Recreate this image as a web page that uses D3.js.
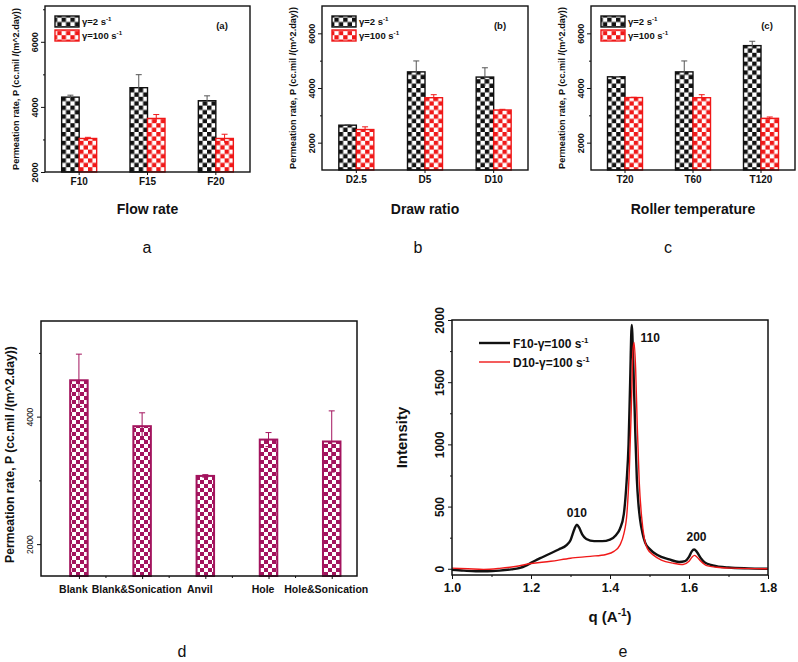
<!DOCTYPE html>
<html>
<head>
<meta charset="utf-8">
<script src="https://cdn.jsdelivr.net/npm/d3@7"></script>
<style>
  html, body { margin: 0; padding: 0; background: #fff; }
  svg { display: block; }
</style>
</head>
<body>
<script>
// ---- data ----
const seriesNames = ['γ=2', 'γ=100'];

const flowCats = ['F10', 'F15', 'F20'];
const flowLow = [4300, 4590, 4190];
const flowLowErr = [60, 400, 150];
const flowHigh = [3030, 3645, 3030];
const flowHighErr = [35, 120, 130];

const drawCats = ['D2.5', 'D5', 'D10'];
const drawLow = [2640, 4590, 4400];
const drawLowErr = [15, 400, 340];
const drawHigh = [2480, 3645, 3195];
const drawHighErr = [100, 110, 25];

const tempCats = ['T20', 'T60', 'T120'];
const tempLow = [4410, 4590, 5550];
const tempLowErr = [10, 400, 160];
const tempHigh = [3650, 3645, 2890];
const tempHighErr = [10, 110, 50];

const modCats = ['Blank', 'Blank&Sonication', 'Anvil', 'Hole', 'Hole&Sonication'];
const modVals = [4570, 3850, 3070, 3640, 3610];
const modErr = [410, 210, 20, 110, 480];

// WAXS curves: [q, intensity]
const f10Curve = [
  [1.00, -8], [1.03, -15], [1.06, -20], [1.09, -20], [1.12, -15], [1.15, -5], [1.17, 5],
  [1.19, 30], [1.21, 65], [1.23, 95], [1.25, 125], [1.27, 155], [1.29, 190], [1.30, 230],
  [1.31, 320], [1.316, 355], [1.322, 330], [1.33, 275], [1.34, 240], [1.36, 222], [1.38, 222],
  [1.40, 235], [1.415, 270], [1.425, 320], [1.435, 440], [1.442, 700], [1.447, 1000],
  [1.451, 1500], [1.455, 1960], [1.459, 1650], [1.464, 1100], [1.468, 720], [1.472, 520],
  [1.476, 400], [1.482, 290], [1.489, 210], [1.50, 160], [1.52, 110], [1.55, 75], [1.575, 55],
  [1.59, 62], [1.60, 95], [1.607, 140], [1.613, 155], [1.62, 135], [1.63, 85], [1.64, 50],
  [1.66, 28], [1.70, 10], [1.75, 3], [1.80, 0]
];
const d10Curve = [
  [1.00, 5], [1.04, 0], [1.08, -5], [1.12, 3], [1.16, 18], [1.20, 42], [1.25, 60], [1.30, 85],
  [1.35, 100], [1.39, 115], [1.41, 140], [1.425, 190], [1.435, 280], [1.443, 450], [1.449, 800],
  [1.454, 1300], [1.458, 1750], [1.461, 1820], [1.465, 1600], [1.469, 1150], [1.474, 700],
  [1.48, 420], [1.487, 240], [1.495, 160], [1.51, 110], [1.53, 70], [1.56, 45], [1.585, 35],
  [1.60, 60], [1.608, 95], [1.614, 108], [1.62, 95], [1.63, 60], [1.645, 25], [1.67, 12],
  [1.71, 5], [1.80, 0]
];
const peakLabels = [
  { text: '010', q: 1.316, v: 420 },
  { text: '110', q: 1.502, v: 1825 },
  { text: '200', q: 1.619, v: 225 },
];

// ---- setup ----
const FONT = '"Liberation Sans", Arial, Helvetica, sans-serif';
const RED = '#f01818';
const MAG = '#a3145e';

const svg = d3.select('body').append('svg')
  .attr('width', 798).attr('height', 662)
  .style('font-family', FONT);

const defs = svg.append('defs');
function checker(id, color, size) {
  const p = defs.append('pattern').attr('id', id)
    .attr('patternUnits', 'userSpaceOnUse')
    .attr('width', size * 2).attr('height', size * 2);
  p.append('rect').attr('width', size * 2).attr('height', size * 2).attr('fill', '#fff');
  p.append('rect').attr('width', size).attr('height', size).attr('fill', color);
  p.append('rect').attr('x', size).attr('y', size).attr('width', size).attr('height', size).attr('fill', color);
}
checker('chkBlack', '#111', 4.4);
checker('chkRed', RED, 4.4);
checker('chkMag', MAG, 4);

const seriesStyle = [
  { fill: 'url(#chkBlack)', stroke: '#111' },
  { fill: 'url(#chkRed)', stroke: RED },
];

// rotate left-axis tick labels to read bottom-to-top
function rotateLeftLabels(axisG, offset, size, weight) {
  axisG.selectAll('text')
    .attr('x', 0).attr('y', -offset).attr('dy', null)
    .attr('transform', 'rotate(-90)')
    .attr('text-anchor', 'middle')
    .attr('font-size', size)
    .attr('font-weight', weight)
    .attr('font-family', FONT)
    .attr('fill', '#111');
}

function styleAxis(axisG) {
  axisG.select('.domain').remove();
  axisG.selectAll('line').attr('stroke', '#111').attr('stroke-width', 1);
}

function supText(sel, base, sup, size) {
  sel.append('tspan').text(base);
  sel.append('tspan').text(sup).attr('dy', -size * 0.4).attr('font-size', size * 0.65);
}

// ---- grouped bar panels a, b, c ----
function groupedPanel(cfg) {
  const g = svg.append('g');
  const { left, right, top, bottom } = cfg;

  const x0 = d3.scaleBand().domain(cfg.cats).range([left, right]);
  const x1 = d3.scaleBand().domain(seriesNames).range([-17.5, 17.5]);
  const y = d3.scaleLinear().domain(cfg.domain).range([bottom, top]);

  const rows = cfg.cats.map((c, i) => ({
    cat: c,
    items: [
      { s: 0, key: seriesNames[0], v: cfg.low[i], e: cfg.lowErr[i] },
      { s: 1, key: seriesNames[1], v: cfg.high[i], e: cfg.highErr[i] },
    ],
  }));

  const grp = g.selectAll('g.grp').data(rows).join('g')
    .attr('transform', (d) => `translate(${x0(d.cat) + x0.bandwidth() / 2},0)`);

  grp.selectAll('rect').data((d) => d.items).join('rect')
    .attr('x', (d) => x1(d.key))
    .attr('y', (d) => y(d.v))
    .attr('width', x1.bandwidth())
    .attr('height', (d) => bottom - y(d.v))
    .attr('fill', (d) => seriesStyle[d.s].fill)
    .attr('stroke', (d) => seriesStyle[d.s].stroke)
    .attr('stroke-width', 1.4);

  // error bars
  const eb = grp.selectAll('g.err').data((d) => d.items).join('g')
    .attr('transform', (d) => `translate(${x1(d.key) + x1.bandwidth() / 2},0)`);
  eb.append('line')
    .attr('y1', (d) => y(d.v + d.e)).attr('y2', (d) => y(d.v - d.e))
    .attr('stroke', (d) => d.s === 0 ? '#555' : RED).attr('stroke-width', 1);
  eb.append('line')
    .attr('x1', -3).attr('x2', 3)
    .attr('y1', (d) => y(d.v + d.e)).attr('y2', (d) => y(d.v + d.e))
    .attr('stroke', (d) => d.s === 0 ? '#555' : RED).attr('stroke-width', 1);

  // axes
  const yMajor = g.append('g').attr('transform', `translate(${left},0)`)
    .call(d3.axisLeft(y).tickValues([2000, 4000, 6000]).tickSize(4).tickPadding(0).tickFormat(d3.format('d')));
  styleAxis(yMajor);
  rotateLeftLabels(yMajor, 7, 9, 'bold');
  const yMinor = g.append('g').attr('transform', `translate(${left},0)`)
    .call(d3.axisLeft(y).tickValues(cfg.minor).tickSize(2).tickFormat(''));
  styleAxis(yMinor);

  const xAx = g.append('g').attr('transform', `translate(0,${bottom})`)
    .call(d3.axisBottom(x0).tickSize(3).tickPadding(3));
  styleAxis(xAx);
  xAx.selectAll('text').attr('font-size', 10).attr('font-weight', 'bold')
    .attr('font-family', FONT).attr('fill', '#111');

  // frame
  g.append('rect').attr('x', left).attr('y', top)
    .attr('width', right - left).attr('height', bottom - top)
    .attr('fill', 'none').attr('stroke', '#111').attr('stroke-width', 1.4);

  // y title
  g.append('text')
    .attr('transform', `translate(${left - 26},${(top + bottom) / 2}) rotate(-90)`)
    .attr('text-anchor', 'middle')
    .attr('font-size', 9.1).attr('font-weight', 'bold').attr('fill', '#111')
    .text('Permeation rate, P (cc.mil /(m^2.day))');

  // x title
  g.append('text').attr('x', (left + right) / 2).attr('y', 214)
    .attr('text-anchor', 'middle').attr('font-size', 14).attr('font-weight', 'bold').attr('fill', '#111')
    .text(cfg.xTitle);

  // tag
  g.append('text').attr('x', right - 28).attr('y', 29)
    .attr('text-anchor', 'middle').attr('font-size', 9.5).attr('font-weight', 'bold').attr('fill', '#111')
    .text(cfg.tag);

  // legend
  const lx = left + 10;
  const legend = [
    { s: 0, y: 16, label: 'γ=2 s' },
    { s: 1, y: 30, label: 'γ=100 s' },
  ];
  legend.forEach((d) => {
    g.append('rect').attr('x', lx).attr('y', d.y).attr('width', 24).attr('height', 11)
      .attr('fill', seriesStyle[d.s].fill).attr('stroke', seriesStyle[d.s].stroke).attr('stroke-width', 1.4);
    const t = g.append('text').attr('x', lx + 27).attr('y', d.y + 9)
      .attr('font-size', 9.5).attr('font-weight', 'bold').attr('fill', '#111');
    supText(t, d.label, '-1', 9.5);
  });

  // panel letter
  svg.append('text').attr('x', cfg.letterX).attr('y', 253)
    .attr('text-anchor', 'middle').attr('font-size', 16).attr('fill', '#111')
    .text(cfg.letter);
}

groupedPanel({
  left: 45, right: 250, top: 6, bottom: 172, domain: [2000, 7100], minor: [3000, 5000, 7000],
  cats: flowCats, low: flowLow, lowErr: flowLowErr, high: flowHigh, highErr: flowHighErr,
  xTitle: 'Flow rate', tag: '(a)', letter: 'a', letterX: 147,
});
groupedPanel({
  left: 322, right: 528, top: 6, bottom: 170, domain: [1000, 7000], minor: [3000, 5000],
  cats: drawCats, low: drawLow, lowErr: drawLowErr, high: drawHigh, highErr: drawHighErr,
  xTitle: 'Draw ratio', tag: '(b)', letter: 'b', letterX: 418,
});
groupedPanel({
  left: 591, right: 795, top: 6, bottom: 170, domain: [1000, 7000], minor: [3000, 5000],
  cats: tempCats, low: tempLow, lowErr: tempLowErr, high: tempHigh, highErr: tempHighErr,
  xTitle: 'Roller temperature', tag: '(c)', letter: 'c', letterX: 668,
});

// ---- panel d ----
(function () {
  const left = 41, right = 357, top = 321, bottom = 576;
  const g = svg.append('g');
  const x = d3.scaleLinear().domain([0.4, 5.4]).range([left, right]);
  const y = d3.scaleLinear().domain([1500, 5500]).range([bottom, top]);
  const bw = 17.5;
  const data = modCats.map((c, i) => ({ c, i: i + 1, v: modVals[i], e: modErr[i] }));

  g.selectAll('rect.bar').data(data).join('rect')
    .attr('x', (d) => x(d.i) - bw / 2).attr('y', (d) => y(d.v))
    .attr('width', bw).attr('height', (d) => bottom - y(d.v))
    .attr('fill', 'url(#chkMag)').attr('stroke', MAG).attr('stroke-width', 2);

  const eb = g.selectAll('g.err').data(data).join('g')
    .attr('transform', (d) => `translate(${x(d.i)},0)`);
  eb.append('line').attr('y1', (d) => y(d.v + d.e)).attr('y2', (d) => y(d.v - d.e))
    .attr('stroke', MAG).attr('stroke-width', 1);
  eb.append('line').attr('x1', -3).attr('x2', 3)
    .attr('y1', (d) => y(d.v + d.e)).attr('y2', (d) => y(d.v + d.e))
    .attr('stroke', MAG).attr('stroke-width', 1);
  eb.append('line').attr('x1', -3).attr('x2', 3)
    .attr('y1', (d) => y(d.v - d.e)).attr('y2', (d) => y(d.v - d.e))
    .attr('stroke', MAG).attr('stroke-width', 1);

  const yMajor = g.append('g').attr('transform', `translate(${left},0)`)
    .call(d3.axisLeft(y).tickValues([2000, 4000]).tickSize(4).tickFormat(d3.format('d')));
  styleAxis(yMajor);
  rotateLeftLabels(yMajor, 8, 8.5, 'normal');
  const yMinor = g.append('g').attr('transform', `translate(${left},0)`)
    .call(d3.axisLeft(y).tickValues([3000, 5000]).tickSize(2).tickFormat(''));
  styleAxis(yMinor);

  const xAx = g.append('g').attr('transform', `translate(0,${bottom})`)
    .call(d3.axisBottom(x).tickValues([1, 2, 3, 4, 5]).tickSize(3).tickPadding(7)
      .tickFormat((d) => modCats[d - 1]));
  styleAxis(xAx);
  xAx.selectAll('text').attr('dx', -6).attr('font-size', 10.5).attr('font-weight', 'bold')
    .attr('font-family', FONT).attr('fill', '#111');
  const xMinor = g.append('g').attr('transform', `translate(0,${bottom})`)
    .call(d3.axisBottom(x).tickValues([1.42, 2.42, 3.42, 4.42]).tickSize(2).tickFormat(''));
  styleAxis(xMinor);

  g.append('rect').attr('x', left).attr('y', top)
    .attr('width', right - left).attr('height', bottom - top)
    .attr('fill', 'none').attr('stroke', '#111').attr('stroke-width', 1.5);

  g.append('text')
    .attr('transform', `translate(14,${(top + bottom) / 2 + 6}) rotate(-90)`)
    .attr('text-anchor', 'middle')
    .attr('font-size', 12.2).attr('font-weight', 'bold').attr('fill', '#111')
    .text('Permeation rate, P (cc.mil /(m^2.day))');

  svg.append('text').attr('x', 182).attr('y', 657)
    .attr('text-anchor', 'middle').attr('font-size', 16).attr('fill', '#111').text('d');
})();

// ---- panel e ----
(function () {
  const left = 452, right = 768, top = 320, bottom = 575;
  const g = svg.append('g');
  const x = d3.scaleLinear().domain([1.0, 1.8]).range([left, right]);
  const y = d3.scaleLinear().domain([-50, 2000]).range([bottom, top]);

  defs.append('clipPath').attr('id', 'clipE').append('rect')
    .attr('x', left).attr('y', top).attr('width', right - left).attr('height', bottom - top);

  const line = d3.line().x((d) => x(d[0])).y((d) => y(d[1])).curve(d3.curveMonotoneX);

  g.append('path').datum(f10Curve).attr('d', line).attr('clip-path', 'url(#clipE)')
    .attr('fill', 'none').attr('stroke', '#111').attr('stroke-width', 2.4).attr('stroke-linejoin', 'round');
  g.append('path').datum(d10Curve).attr('d', line).attr('clip-path', 'url(#clipE)')
    .attr('fill', 'none').attr('stroke', RED).attr('stroke-width', 1.4).attr('stroke-linejoin', 'round');

  const yMajor = g.append('g').attr('transform', `translate(${left},0)`)
    .call(d3.axisLeft(y).tickValues([0, 500, 1000, 1500, 2000]).tickSize(4).tickFormat(d3.format('d')));
  styleAxis(yMajor);
  rotateLeftLabels(yMajor, 8, 12, 'bold');
  const yMinor = g.append('g').attr('transform', `translate(${left},0)`)
    .call(d3.axisLeft(y).tickValues([250, 750, 1250, 1750]).tickSize(2).tickFormat(''));
  styleAxis(yMinor);

  const xAx = g.append('g').attr('transform', `translate(0,${bottom})`)
    .call(d3.axisBottom(x).tickValues([1.0, 1.2, 1.4, 1.6, 1.8]).tickSize(4).tickPadding(4)
      .tickFormat(d3.format('.1f')));
  styleAxis(xAx);
  xAx.selectAll('text').attr('font-size', 12.5).attr('font-weight', 'bold')
    .attr('font-family', FONT).attr('fill', '#111');
  const xMinor = g.append('g').attr('transform', `translate(0,${bottom})`)
    .call(d3.axisBottom(x).tickValues([1.1, 1.3, 1.5, 1.7]).tickSize(2).tickFormat(''));
  styleAxis(xMinor);

  g.append('rect').attr('x', left).attr('y', top)
    .attr('width', right - left).attr('height', bottom - top)
    .attr('fill', 'none').attr('stroke', '#111').attr('stroke-width', 1.5);

  // titles
  g.append('text')
    .attr('transform', `translate(407,${(top + bottom) / 2 - 10}) rotate(-90)`)
    .attr('text-anchor', 'middle').attr('font-size', 15).attr('font-weight', 'bold').attr('fill', '#111')
    .text('Intensity');
  const xt = g.append('text').attr('x', 610).attr('y', 622)
    .attr('text-anchor', 'middle').attr('font-size', 15).attr('font-weight', 'bold').attr('fill', '#111');
  xt.append('tspan').text('q (A');
  xt.append('tspan').text('-1').attr('dy', -6).attr('font-size', 10);
  xt.append('tspan').text(')').attr('dy', 6);

  // legend
  const leg = [
    { label: 'F10-γ=100 s', color: '#111', w: 2.4, y: 343 },
    { label: 'D10-γ=100 s', color: RED, w: 1.4, y: 362 },
  ];
  leg.forEach((d) => {
    g.append('line').attr('x1', 479).attr('x2', 510).attr('y1', d.y).attr('y2', d.y)
      .attr('stroke', d.color).attr('stroke-width', d.w);
    const t = g.append('text').attr('x', 513).attr('y', d.y + 4.5)
      .attr('font-size', 12).attr('font-weight', 'bold').attr('fill', '#111');
    supText(t, d.label, '-1', 12);
  });

  // peak labels
  g.selectAll('text.peak').data(peakLabels).join('text')
    .attr('x', (d) => x(d.q)).attr('y', (d) => y(d.v))
    .attr('text-anchor', 'middle').attr('font-size', 12).attr('font-weight', 'bold').attr('fill', '#111')
    .text((d) => d.text);

  svg.append('text').attr('x', 623).attr('y', 657)
    .attr('text-anchor', 'middle').attr('font-size', 16).attr('fill', '#111').text('e');
})();
</script>
</body>
</html>
